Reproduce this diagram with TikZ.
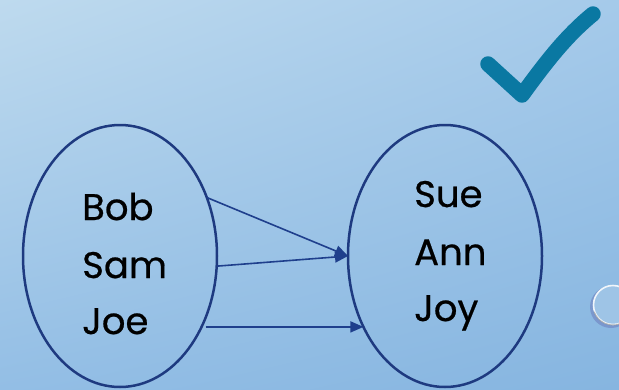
\documentclass[tikz,border=0pt]{standalone}
\usepackage{fontspec}
\setmainfont{Poppins}
\newfontfamily\namefont{Poppins}[FakeBold=0.6]
\usetikzlibrary{shapes.geometric,arrows.meta,shadings}
\definecolor{bgUL}{HTML}{BEDAEE}
\definecolor{bgUR}{HTML}{A5CAEA}
\definecolor{bgLL}{HTML}{93BEE5}
\definecolor{bgLR}{HTML}{86B5E0}
\definecolor{navy}{HTML}{1E3A80}
\definecolor{arrowblue}{HTML}{1F3F8C}
\definecolor{checkblue}{HTML}{0A78A2}
\tikzset{
  setoval/.style={draw=navy, line width=2.5pt, ellipse, inner sep=0pt, outer sep=0pt,
    minimum width=194pt, minimum height=262pt},
  personname/.style={anchor=base west, inner sep=0pt, text=black,
    font=\namefont\fontsize{37}{46}\selectfont},
  maparrow/.style={draw=arrowblue, line width=1.6pt, -{Triangle[length=13pt,width=11pt]}},
}
\begin{document}
\begin{tikzpicture}[x=1pt,y=-1pt]
\useasboundingbox (0,0) rectangle (619,389);
\shade[upper left=bgUL, upper right=bgUR, lower left=bgLL, lower right=bgLR] (0,0) rectangle (619,389);

% check mark
\draw[checkblue, line width=15.5pt, line cap=round, line join=round]
  (488,64) -- (522,95) .. controls (546,62) and (566,36) .. (593,14);

% glass bubble
\fill[gray!70!blue, opacity=0.35] (611,307) circle (21pt);
\fill[bgLR!80!white] (613,305) circle (20pt);
\draw[white, line width=1.6pt, opacity=0.85] (613,305) circle (19.5pt);
\draw[gray!80!black, line width=1pt, opacity=0.45] (613,305) ++(200:20pt) arc (200:290:20pt);

% sets
\node[setoval] (L) at (120,256) {};
\node[setoval] (R) at (445,256) {};

% names
\node[personname] (bob) at (82,220) {Bob};
\node[personname] (sam) at (82,278) {Sam};
\node[personname] (joe) at (82,334) {Joe};
\node[personname] (sue) at (414,207) {Sue};
\node[personname] (ann) at (414,265) {Ann};
\node[personname] (joy) at (414,321) {Joy};

% mapping arrows
\draw[maparrow] (L.34) -- (R.180);
\draw[maparrow] (L.-6) -- (R.180);
\draw[maparrow] ([xshift=4pt]L.-41) -- (R.221);
\end{tikzpicture}
\end{document}
